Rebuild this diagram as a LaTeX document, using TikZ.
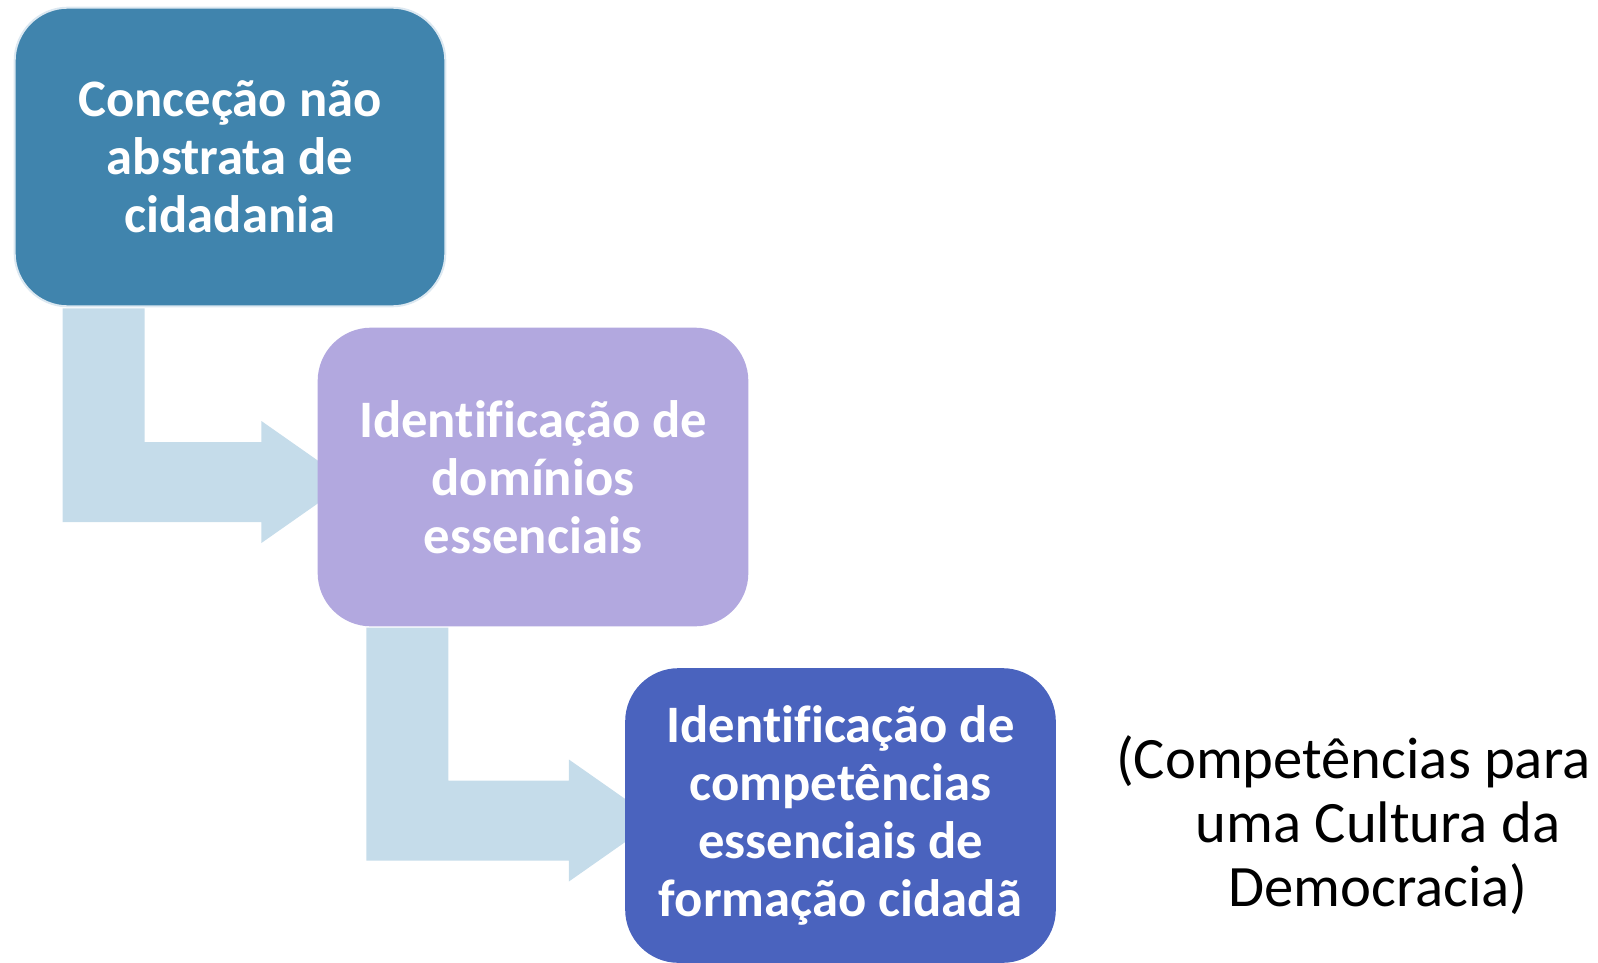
\documentclass[tikz,border=0pt]{standalone}
\usepackage{fontspec}
\setmainfont{Carlito}[Ligatures=CommonOff]
\usetikzlibrary{calc,backgrounds}

\definecolor{conceptblue}{HTML}{4084AD}
\definecolor{domainlilac}{HTML}{B2A8DF}
\definecolor{skillblue}{HTML}{4A63BE}
\definecolor{flowpale}{HTML}{C5DCEA}
\definecolor{rimpale}{HTML}{DCE8F1}

\tikzset{
  stagebox/.style={rectangle, rounded corners=40pt, minimum width=323pt, minimum height=224pt,
    inner sep=0pt, align=center, text=white, font=\bfseries\fontsize{39.5}{43.5}\selectfont},
  flowarrow/.style={fill=flowpale}
}

% bent arrow from the bottom of one stage to the west side of the next
\newcommand{\bentarrow}[2]{%
  \fill[flowarrow] ($(#1.south west)+(49,1)$) coordinate (p) -- ++(82,0)
    |- ($(#2.west)+(-56,-35)$) -- ++(0,-21) -- ++(87,61) -- ++(-87,61) -- ++(0,-21)
    -| (p) -- cycle;}

\begin{document}
\begin{tikzpicture}[x=0.75pt, y=-0.75pt]
	\useasboundingbox (0,0) rectangle (1598,963);
	\node[stagebox, fill=conceptblue, draw=rimpale, line width=1.5pt] (concecao) at (230,157)
		{Conceção não\\abstrata de\\cidadania};
	\node[stagebox, fill=domainlilac] (dominios) at (533,477)
		{Identificação de\\domínios\\essenciais};
	\node[stagebox, fill=skillblue, minimum height=221pt] (competencias) at (840.5,815.5)
		{Identificação de\\competências\\essenciais de\\formação cidadã};
	\node[align=center, font=\fontsize{44}{48}\selectfont] (ccd) at (1378,825)
		{(Competências para\hspace*{37pt}\\uma Cultura da\\Democracia)};
	\begin{scope}[on background layer]
		\bentarrow{concecao}{dominios}
		\bentarrow{dominios}{competencias}
	\end{scope}
\end{tikzpicture}
\end{document}
